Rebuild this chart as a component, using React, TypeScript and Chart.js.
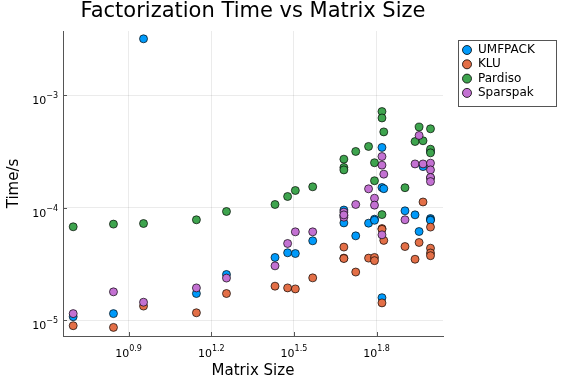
import React, { useEffect, useRef } from 'react';
import { Chart, registerables } from 'chart.js';

Chart.register(...registerables);

const chartTitle = 'Factorization Time vs Matrix Size';
const xAxisTitle = 'Matrix Size';
const yAxisTitle = 'Time/s';

const seriesNames = ['UMFPACK', 'KLU', 'Pardiso', 'Sparspak'];
const seriesColors = ['#009AFA', '#E36F47', '#3EA44E', '#C371D2'];

const matrixSizes = [5, 7, 9, 14, 18, 27, 30, 32, 37, 48, 48, 48, 53, 59, 62, 62, 66, 66, 66, 67, 80, 87, 90, 93, 99, 99, 99, 99];

const umfpackTimes = [1.07e-5, 1.14e-5, 3.16e-3, 1.72e-5, 2.54e-5, 3.6e-5, 3.96e-5, 3.9e-5, 5.06e-5, 9.5e-5, 8.5e-5, 7.3e-5, 5.6e-5, 7.26e-5, 7.88e-5, 7.7e-5, 3.42e-4, 1.506e-4, 1.58e-5, 1.47e-4, 9.35e-5, 8.61e-5, 6.12e-5, 2.31e-4, 3.15e-4, 7.98e-5, 7.78e-5, 7.7e-5];
const kluTimes = [8.9e-6, 8.6e-6, 1.33e-5, 1.16e-5, 1.72e-5, 2.0e-5, 1.93e-5, 1.89e-5, 2.37e-5, 4.45e-5, 3.55e-5, 3.52e-5, 2.67e-5, 3.55e-5, 3.6e-5, 3.37e-5, 6.5e-5, 6.4e-5, 1.42e-5, 5.1e-5, 4.5e-5, 3.47e-5, 4.89e-5, 1.12e-4, 6.7e-5, 4.35e-5, 3.94e-5, 3.73e-5];
const pardisoTimes = [6.74e-5, 7.12e-5, 7.21e-5, 7.78e-5, 9.22e-5, 1.064e-4, 1.253e-4, 1.417e-4, 1.528e-4, 2.69e-4, 2.27e-4, 2.16e-4, 3.15e-4, 3.49e-4, 2.5e-4, 1.73e-4, 7.13e-4, 6.25e-4, 8.65e-5, 4.7e-4, 1.5e-4, 3.86e-4, 5.19e-4, 3.92e-4, 5.01e-4, 3.3e-4, 3.06e-4, 1.83e-4];
const sparspakTimes = [1.14e-5, 1.78e-5, 1.44e-5, 1.93e-5, 2.36e-5, 3.03e-5, 4.79e-5, 6.08e-5, 6.08e-5, 9.1e-5, 8.2e-5, 8.6e-5, 1.064e-4, 1.466e-4, 1.21e-4, 1.05e-4, 2.84e-4, 2.38e-4, 5.72e-5, 1.98e-4, 7.78e-5, 2.44e-4, 4.37e-4, 2.44e-4, 2.48e-4, 2.16e-4, 1.85e-4, 1.70e-4];

const seriesTimes = [umfpackTimes, kluTimes, pardisoTimes, sparspakTimes];

const xTickExponents = ['0.9', '1.2', '1.5', '1.8'];
const yTickExponents = ['-3', '-4', '-5'];

const xMin = Math.pow(10, 0.662);
const xMax = Math.pow(10, 2.041);
const yMin = Math.pow(10, -5.142);
const yMax = Math.pow(10, -2.431);

const FONT = '"DejaVu Sans", sans-serif';
const AXIS_COLOR = '#555555';

function drawPower(ctx: CanvasRenderingContext2D, exp: string, x: number, baseY: number, align: 'center' | 'right') {
  ctx.font = `11px ${FONT}`;
  const wBase = ctx.measureText('10').width;
  ctx.font = `8px ${FONT}`;
  const wExp = ctx.measureText(exp).width;
  const total = wBase + wExp;
  const start = align === 'center' ? x - total / 2 : x - total;
  ctx.textAlign = 'left';
  ctx.textBaseline = 'alphabetic';
  ctx.fillStyle = '#000';
  ctx.font = `11px ${FONT}`;
  ctx.fillText('10', start, baseY);
  ctx.font = `8px ${FONT}`;
  ctx.fillText(exp, start + wBase, baseY - 6);
}

const decorPlugin = {
  id: 'decor',
  afterDraw(chart: any) {
    const ctx: CanvasRenderingContext2D = chart.ctx;
    const area = chart.chartArea;
    const xs = chart.scales.x;
    const ys = chart.scales.y;
    ctx.save();
    // tick marks (inside)
    ctx.strokeStyle = AXIS_COLOR;
    ctx.lineWidth = 1;
    xTickExponents.forEach((e) => {
      const px = Math.round(xs.getPixelForValue(Math.pow(10, parseFloat(e)))) + 0.5;
      ctx.beginPath();
      ctx.moveTo(px, area.bottom);
      ctx.lineTo(px, area.bottom - 4);
      ctx.stroke();
    });
    yTickExponents.forEach((e) => {
      const py = Math.round(ys.getPixelForValue(Math.pow(10, parseFloat(e)))) + 0.5;
      ctx.beginPath();
      ctx.moveTo(area.left, py);
      ctx.lineTo(area.left + 4, py);
      ctx.stroke();
    });
    // tick labels
    xTickExponents.forEach((e) => {
      const px = xs.getPixelForValue(Math.pow(10, parseFloat(e)));
      drawPower(ctx, e, px, area.bottom + 21, 'center');
    });
    yTickExponents.forEach((e) => {
      const py = ys.getPixelForValue(Math.pow(10, parseFloat(e)));
      drawPower(ctx, e.replace('-', '\u2212'), area.left - 5, py + 9, 'right');
    });
    // title
    ctx.fillStyle = '#000';
    ctx.textAlign = 'center';
    ctx.textBaseline = 'middle';
    ctx.font = `21px ${FONT}`;
    ctx.fillText(chartTitle, (area.left + area.right) / 2, 12);
    // axis titles
    ctx.font = `15px ${FONT}`;
    ctx.fillText(xAxisTitle, (area.left + area.right) / 2, 371);
    ctx.save();
    ctx.translate(14, (area.top + area.bottom) / 2);
    ctx.rotate(-Math.PI / 2);
    ctx.fillText(yAxisTitle, 0, 0);
    ctx.restore();
    // legend
    const lx = 458;
    const ly = 40;
    const lw = 98;
    const lh = 66;
    ctx.fillStyle = '#fff';
    ctx.fillRect(lx, ly, lw, lh);
    ctx.strokeStyle = AXIS_COLOR;
    ctx.lineWidth = 1;
    ctx.strokeRect(lx + 0.5, ly + 0.5, lw, lh);
    ctx.font = `12px ${FONT}`;
    ctx.textAlign = 'left';
    ctx.textBaseline = 'middle';
    seriesNames.forEach((name, i) => {
      const cy = ly + 10 + i * 14.3;
      ctx.beginPath();
      ctx.arc(lx + 9, cy, 4.5, 0, Math.PI * 2);
      ctx.fillStyle = seriesColors[i];
      ctx.fill();
      ctx.strokeStyle = '#000';
      ctx.lineWidth = 0.8;
      ctx.stroke();
      ctx.fillStyle = '#000';
      ctx.fillText(name, lx + 20, cy);
    });
    ctx.restore();
  },
};

export default function App() {
  const canvasRef = useRef<HTMLCanvasElement | null>(null);

  useEffect(() => {
    document.body.style.margin = '0';
    const canvas = canvasRef.current;
    if (!canvas) return;
    const datasets = seriesNames.map((name, i) => ({
      label: name,
      data: matrixSizes.map((s, j) => ({ x: s, y: seriesTimes[i][j] })),
      backgroundColor: seriesColors[i],
      borderColor: 'rgba(0,0,0,0.85)',
      borderWidth: 0.8,
      pointRadius: 4,
      pointHoverRadius: 4,
      order: seriesNames.length - i,
    }));
    const chart = new Chart(canvas, {
      type: 'scatter',
      data: { datasets },
      options: {
        animation: false,
        responsive: false,
        maintainAspectRatio: false,
        layout: { padding: { top: 31, right: 133, left: 0, bottom: 0 } },
        plugins: { legend: { display: false }, title: { display: false }, tooltip: { enabled: false } },
        scales: {
          x: {
            type: 'logarithmic',
            min: xMin,
            max: xMax,
            afterBuildTicks: (scale: any) => {
              scale.ticks = xTickExponents.map((e) => ({ value: Math.pow(10, parseFloat(e)) }));
            },
            afterFit: (scale: any) => {
              scale.height = 48;
            },
            ticks: { display: false },
            grid: { color: 'rgba(0,0,0,0.08)', lineWidth: 1, drawTicks: false },
            border: { display: true, color: AXIS_COLOR, width: 1 },
          },
          y: {
            type: 'logarithmic',
            min: yMin,
            max: yMax,
            afterBuildTicks: (scale: any) => {
              scale.ticks = yTickExponents.map((e) => ({ value: Math.pow(10, parseFloat(e)) }));
            },
            afterFit: (scale: any) => {
              scale.width = 63;
            },
            ticks: { display: false },
            grid: { color: 'rgba(0,0,0,0.08)', lineWidth: 1, drawTicks: false },
            border: { display: true, color: AXIS_COLOR, width: 1 },
          },
        },
      },
      plugins: [decorPlugin],
    } as any);
    return () => chart.destroy();
  }, []);

  return (
    <div style={{ position: 'absolute', left: 0, top: 0, width: 576, height: 384, background: '#fff' }}>
      <canvas ref={canvasRef} width={576} height={384} style={{ display: 'block' }} />
    </div>
  );
}
